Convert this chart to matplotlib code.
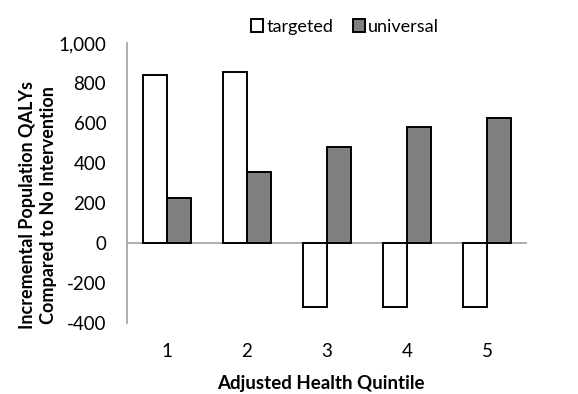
import matplotlib
matplotlib.use("Agg")
import matplotlib.pyplot as plt
import numpy as np

quintiles = ["1", "2", "3", "4", "5"]
targeted = [840, 855, -318, -318, -318]
universal = [227, 357, 478, 582, 625]

plt.rcParams['font.family'] = ['Lato', 'DejaVu Sans']

fig = plt.figure(figsize=(5.78, 3.94), dpi=100)
ax = fig.add_axes([0.2197, 0.180, 0.692, 0.711])

x = np.arange(len(quintiles))
w = 0.295
ax.bar(x - w / 2, targeted, w, color="white", edgecolor="black", linewidth=1.4,
       label="targeted", zorder=3)
ax.bar(x + w / 2, universal, w, color="#808080", edgecolor="black", linewidth=1.4,
       label="universal", zorder=3)

ax.set_xlim(-0.5, len(quintiles) - 0.5)
ax.set_ylim(-400, 1000)
ax.set_yticks(np.arange(-400, 1001, 200))
ax.set_yticklabels([f"{v:,}" for v in range(-400, 1001, 200)])
ax.set_xticks(x)
ax.set_xticklabels(quintiles)
ax.tick_params(axis="both", length=0, labelsize=13.5)
ax.tick_params(axis="y", pad=15)
ax.tick_params(axis="x", pad=14)

for s in ["top", "right", "bottom"]:
    ax.spines[s].set_visible(False)
ax.spines["left"].set_color("#a0a0a0")
ax.spines["left"].set_linewidth(1.2)
ax.axhline(0, color="#a0a0a0", linewidth=1.2, zorder=2)

ax.set_xlabel("Adjusted Health Quintile", fontsize=13.5, fontweight="bold")
ax.xaxis.set_label_coords(0.485, -0.214)
ax.xaxis.label.set_va("center")
ax.set_ylabel("Incremental Population QALYs\nCompared to No Intervention",
              fontsize=13, fontweight="bold", linespacing=1.3)
ax.yaxis.set_label_coords(-0.222, 0.421)
ax.yaxis.label.set_va("center")

ax.legend(loc="center", bbox_to_anchor=(0.545, 1.058), ncol=2, frameon=False,
          fontsize=13, handlelength=0.7, handleheight=0.7, handletextpad=0.15,
          columnspacing=1.1, borderpad=0, borderaxespad=0)

fig.savefig("out.png", dpi=100)
